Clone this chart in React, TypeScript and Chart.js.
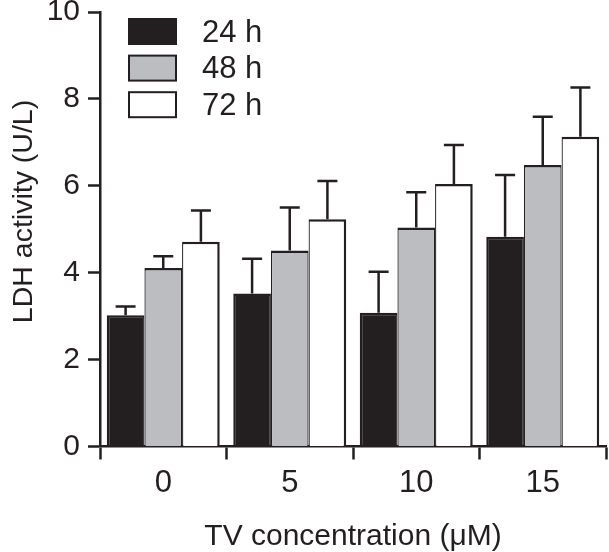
import React, { useEffect, useRef } from "react";
import { Chart, registerables } from "chart.js";

Chart.register(...registerables);

const categories = ["0", "5", "10", "15"];
const seriesLabels = ["24 h", "48 h", "72 h"];
const values24 = [3.02, 3.52, 3.08, 4.83];
const values48 = [4.11, 4.51, 5.04, 6.48];
const values72 = [4.71, 5.23, 6.04, 7.13];
const err24 = [0.2, 0.8, 0.94, 1.42];
const err48 = [0.27, 0.99, 0.81, 1.11];
const err72 = [0.72, 0.88, 0.9, 1.13];
const yTicks = [0, 2, 4, 6, 8, 10];
const xTitle = "TV concentration (\u03bcM)";
const yTitle = "LDH activity (U/L)";

const INK = "#231f20";
const FONT = "'Liberation Sans', Arial, Helvetica, sans-serif";
const fills = ["#231f20", "#bcbdc0", "#ffffff"];

const errorBarPlugin = {
  id: "errorBars",
  afterDatasetsDraw(chart: any) {
    const ctx = chart.ctx;
    const yScale = chart.scales.y;
    const errs = [err24, err48, err72];
    ctx.save();
    ctx.strokeStyle = INK;
    ctx.lineWidth = 2.5;
    chart.data.datasets.forEach((ds: any, i: number) => {
      const meta = chart.getDatasetMeta(i);
      meta.data.forEach((bar: any, j: number) => {
        const v = ds.data[j] + errs[i][j];
        const yCap = yScale.getPixelForValue(v);
        const x = bar.x;
        ctx.beginPath();
        ctx.moveTo(x, bar.y);
        ctx.lineTo(x, yCap);
        ctx.moveTo(x - 10, yCap);
        ctx.lineTo(x + 10, yCap);
        ctx.stroke();
      });
    });
    ctx.restore();
  },
};

const legendAndTitlePlugin = {
  id: "legendAndTitle",
  afterDraw(chart: any) {
    const ctx = chart.ctx;
    ctx.save();
    // legend
    chart.data.datasets.forEach((ds: any, i: number) => {
      const top = 19 + i * 36.6;
      ctx.fillStyle = ds.backgroundColor;
      ctx.fillRect(129, top, 47, 25);
      ctx.strokeStyle = INK;
      ctx.lineWidth = 2;
      ctx.strokeRect(129, top, 47, 25);
      ctx.fillStyle = INK;
      ctx.font = `31px ${FONT}`;
      ctx.textAlign = "left";
      ctx.textBaseline = "middle";
      ctx.fillText(ds.label, 202, top + 14);
    });
    // y title
    ctx.translate(32, 211.5);
    ctx.rotate(-Math.PI / 2);
    ctx.font = `28.5px ${FONT}`;
    ctx.textAlign = "center";
    ctx.textBaseline = "alphabetic";
    ctx.fillStyle = INK;
    ctx.fillText(yTitle, 0, 0);
    ctx.restore();
  },
};

export default function App() {
  const canvasRef = useRef<HTMLCanvasElement | null>(null);

  useEffect(() => {
    if (!canvasRef.current) return;
    const datasets = [values24, values48, values72].map((vals, i) => ({
      label: seriesLabels[i],
      data: vals,
      backgroundColor: fills[i],
      borderColor: INK,
      borderWidth:
        i === 0
          ? { top: 2.5, left: 2.5, right: 1.25, bottom: 0 }
          : i === 1
          ? { top: 2.5, left: 1.25, right: 1.25, bottom: 0 }
          : { top: 2.5, left: 1.25, right: 2.5, bottom: 0 },
      borderSkipped: "bottom",
      categoryPercentage: 0.893,
      barPercentage: 1,
    }));

    const chart = new Chart(canvasRef.current, {
      type: "bar",
      data: { labels: categories, datasets },
      options: {
        animation: false,
        responsive: false,
        devicePixelRatio: 1,
        layout: { padding: { top: 12, right: 3, left: 0, bottom: 0 } },
        plugins: {
          legend: { display: false },
          tooltip: { enabled: false },
        },
        scales: {
          x: {
            grid: {
              offset: true,
              drawOnChartArea: false,
              drawTicks: true,
              tickLength: 13,
              tickWidth: 2.5,
              tickColor: INK,
              color: INK,
            },
            border: { display: true, color: INK, width: 2.5 },
            ticks: {
              color: INK,
              font: { family: FONT, size: 31 },
              padding: 5,
            },
            title: {
              display: true,
              text: xTitle,
              color: INK,
              font: { family: FONT, size: 30 },
              padding: { top: 0, bottom: -3 },
            },
            afterFit(scale: any) {
              scale.height = 105.5;
              scale.paddingLeft = 0;
              scale.paddingRight = 0;
            },
          },
          y: {
            min: 0,
            max: 10,
            afterBuildTicks(scale: any) {
              scale.ticks = yTicks.map((v) => ({ value: v }));
            },
            grid: {
              drawOnChartArea: false,
              drawTicks: true,
              tickLength: 12,
              tickWidth: 2.5,
              tickColor: INK,
              color: INK,
            },
            border: { display: true, color: INK, width: 2.5 },
            ticks: {
              color: INK,
              font: { family: FONT, size: 30 },
              padding: 8,
            },
            afterFit(scale: any) {
              scale.width = 100;
              scale.paddingTop = 0;
              scale.paddingBottom = 0;
            },
          },
        },
      },
      plugins: [errorBarPlugin, legendAndTitlePlugin],
    });
    return () => chart.destroy();
  }, []);

  return (
    <div style={{ position: "fixed", left: 0, top: 0, width: 609, height: 552, background: "#fff" }}>
      <canvas ref={canvasRef} width={609} height={552} />
    </div>
  );
}
